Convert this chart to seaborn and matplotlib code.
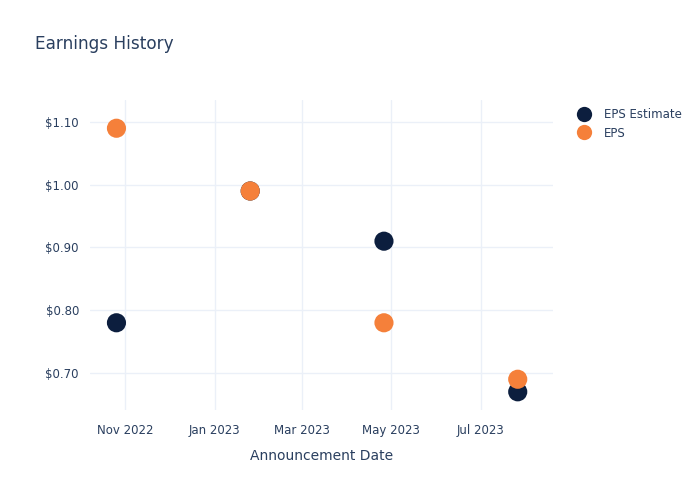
import matplotlib
matplotlib.use("Agg")
import matplotlib.pyplot as plt
import matplotlib.dates as mdates
from matplotlib.ticker import FuncFormatter
from matplotlib.lines import Line2D
import seaborn as sns
import pandas as pd

dates = ["2022-10-26", "2023-01-25", "2023-04-26", "2023-07-26"]
eps_estimate = [0.78, 0.99, 0.91, 0.67]
eps_actual = [1.09, 0.99, 0.78, 0.69]
series_names = ["EPS Estimate", "EPS"]
colors = {"EPS Estimate": "#0c1e3e", "EPS": "#f5803a"}

df = pd.DataFrame({
    "date": pd.to_datetime(dates * 2),
    "value": eps_estimate + eps_actual,
    "series": [series_names[0]] * len(dates) + [series_names[1]] * len(dates),
})

sns.set_theme(style="white")
plt.rcParams['font.family'] = ['DejaVu Sans']
text_color = "#2a3f5f"

fig = plt.figure(figsize=(7, 5), dpi=100)
ax = fig.add_axes([90/700, 1 - 410/500, (553-90)/700, (410-100)/500])

sns.scatterplot(data=df, x="date", y="value", hue="series", hue_order=series_names,
                palette=colors, s=190, edgecolor="none", linewidth=0, ax=ax, legend=False, zorder=3)

ax.set_xlim(pd.Timestamp("2022-10-08"), pd.Timestamp("2023-08-19"))
ax.set_ylim(0.641, 1.135)
ax.set_yticks([0.7, 0.8, 0.9, 1.0, 1.1])
ax.yaxis.set_major_formatter(FuncFormatter(lambda v, p: f"${v:.2f}"))
ax.xaxis.set_major_locator(mdates.MonthLocator(bymonth=[1, 3, 5, 7, 11]))
ax.xaxis.set_major_formatter(mdates.DateFormatter("%b %Y"))
ax.grid(True, color="#ebf0f8", linewidth=1)
ax.set_axisbelow(True)
for sp in ax.spines.values():
    sp.set_visible(False)
ax.tick_params(axis="y", length=0, labelsize=8.5, colors=text_color, pad=8)
ax.tick_params(axis="x", length=0, labelsize=8.5, colors=text_color, pad=10)
ax.set_xlabel("Announcement Date", fontsize=10, color=text_color, labelpad=9)
ax.set_ylabel("")

fig.text(35/700, 1 - 44/500, "Earnings History", fontsize=12.2, color=text_color, va="center", ha="left")

handles = [Line2D([0], [0], marker="o", linestyle="", markersize=11, markerfacecolor=colors[n],
                  markeredgewidth=0) for n in series_names]
leg = fig.legend(handles, series_names, loc="upper left", bbox_to_anchor=(570/700, 1 - 103/500),
                 frameon=False, fontsize=8.5, handletextpad=1.0, labelspacing=0.5,
                 borderaxespad=0, handlelength=1.5)
for t in leg.get_texts():
    t.set_color(text_color)

fig.savefig("out.png", dpi=100)
